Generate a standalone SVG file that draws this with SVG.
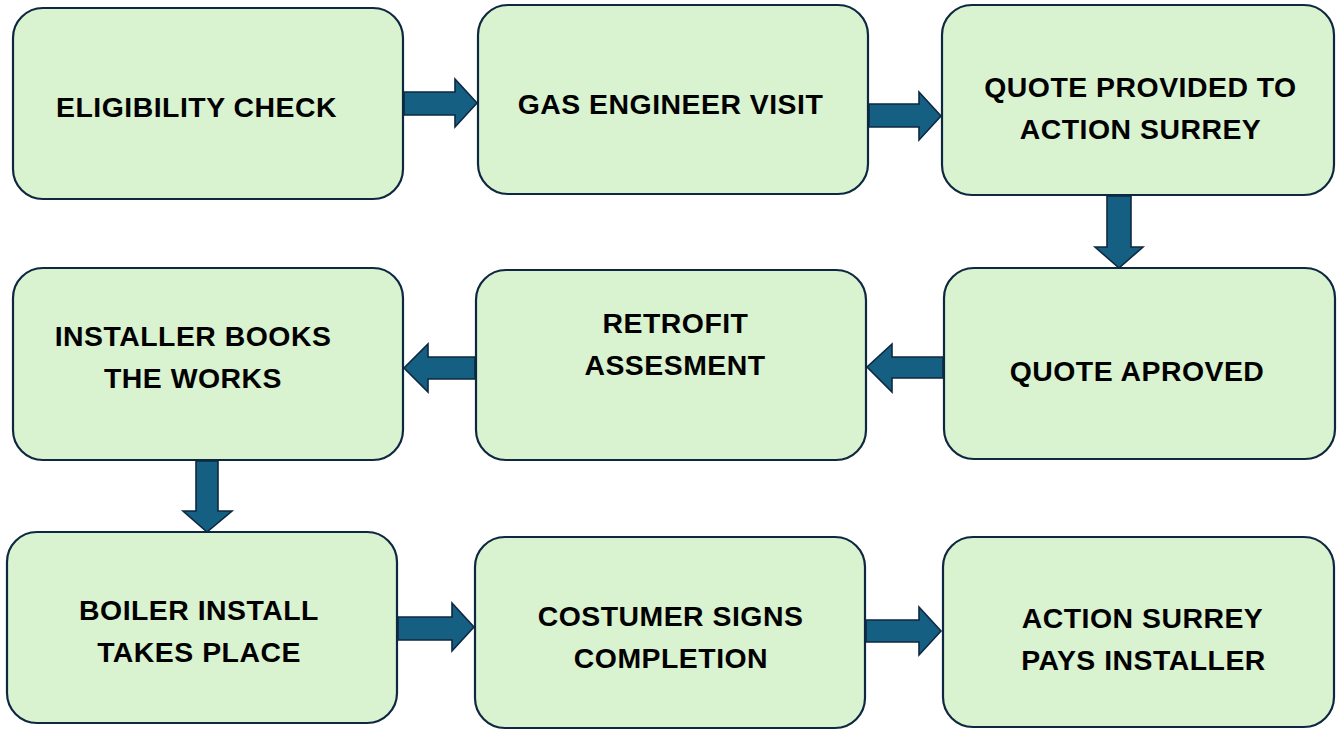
<svg xmlns="http://www.w3.org/2000/svg" width="1343" height="730" viewBox="0 0 1343 730">
  <style>
    .box { fill: #d9f2d0; stroke: #0e2841; stroke-width: 2.2; }
    .label { font-family: "Liberation Sans", Arial, sans-serif; font-weight: bold; font-size: 28.4px; fill: #000; text-anchor: middle; letter-spacing: 0.5px; }
    .arrow { fill: #156082; stroke: #0e2841; stroke-width: 1.6; stroke-linejoin: miter; }
  </style>
  <rect width="1343" height="730" fill="#ffffff"/>

  <!-- Row 1 -->
  <g id="eligibility-check">
    <rect class="box" x="13" y="8" width="390" height="191" rx="30"/>
    <text class="label" x="196.5" y="117">ELIGIBILITY CHECK</text>
  </g>
  <g id="gas-engineer-visit">
    <rect class="box" x="478" y="5" width="390" height="189" rx="30"/>
    <text class="label" x="670.5" y="114">GAS ENGINEER VISIT</text>
  </g>
  <g id="quote-provided">
    <rect class="box" x="942" y="5" width="392" height="190" rx="30"/>
    <text class="label" x="1140.5" y="97">QUOTE PROVIDED TO</text>
    <text class="label" x="1140.5" y="139">ACTION SURREY</text>
  </g>

  <!-- Row 2 -->
  <g id="installer-books">
    <rect class="box" x="13" y="268" width="390" height="192" rx="30"/>
    <text class="label" x="193" y="346">INSTALLER BOOKS</text>
    <text class="label" x="193" y="388">THE WORKS</text>
  </g>
  <g id="retrofit-assessment">
    <rect class="box" x="476" y="270" width="390" height="190" rx="30"/>
    <text class="label" x="675.5" y="333">RETROFIT</text>
    <text class="label" x="675" y="375">ASSESMENT</text>
  </g>
  <g id="quote-approved">
    <rect class="box" x="944" y="268" width="391" height="191" rx="30"/>
    <text class="label" x="1137" y="381">QUOTE APROVED</text>
  </g>

  <!-- Row 3 -->
  <g id="boiler-install">
    <rect class="box" x="7" y="532" width="390" height="191" rx="30"/>
    <text class="label" x="199" y="620">BOILER INSTALL</text>
    <text class="label" x="199" y="662">TAKES PLACE</text>
  </g>
  <g id="costumer-signs">
    <rect class="box" x="475" y="537" width="390" height="191" rx="30"/>
    <text class="label" x="670.5" y="626">COSTUMER SIGNS</text>
    <text class="label" x="671" y="668">COMPLETION</text>
  </g>
  <g id="action-surrey-pays">
    <rect class="box" x="943" y="537" width="391" height="190" rx="30"/>
    <text class="label" x="1142.5" y="628">ACTION SURREY</text>
    <text class="label" x="1143.5" y="670">PAYS INSTALLER</text>
  </g>

  <!-- Block arrows between steps -->
  <g id="connectors">
    <!-- eligibility -> gas engineer -->
    <polygon class="arrow" points="404,92 455,92 455,79 477,103 455,127 455,115 404,115"/>
    <!-- gas engineer -> quote provided -->
    <polygon class="arrow" points="869,104 919,104 919,92 941,116 919,140 919,127 869,127"/>
    <!-- quote provided -> quote approved -->
    <polygon class="arrow" points="1107,196 1131,196 1131,247 1143,247 1119,268 1095,247 1107,247"/>
    <!-- quote approved -> retrofit -->
    <polygon class="arrow" points="943,357 892,357 892,344 867,367 892,392 892,378 943,378"/>
    <!-- retrofit -> installer books -->
    <polygon class="arrow" points="475,357 428,357 428,344 404,368 428,392 428,379 475,379"/>
    <!-- installer books -> boiler install -->
    <polygon class="arrow" points="196,461 218,461 218,511 232,511 207,532 183,511 196,511"/>
    <!-- boiler install -> costumer signs -->
    <polygon class="arrow" points="398,617 452,617 452,603 474,627 452,651 452,640 398,640"/>
    <!-- costumer signs -> action surrey pays -->
    <polygon class="arrow" points="866,620 919,620 919,607 941,631 919,655 919,642 866,642"/>
  </g>
</svg>
